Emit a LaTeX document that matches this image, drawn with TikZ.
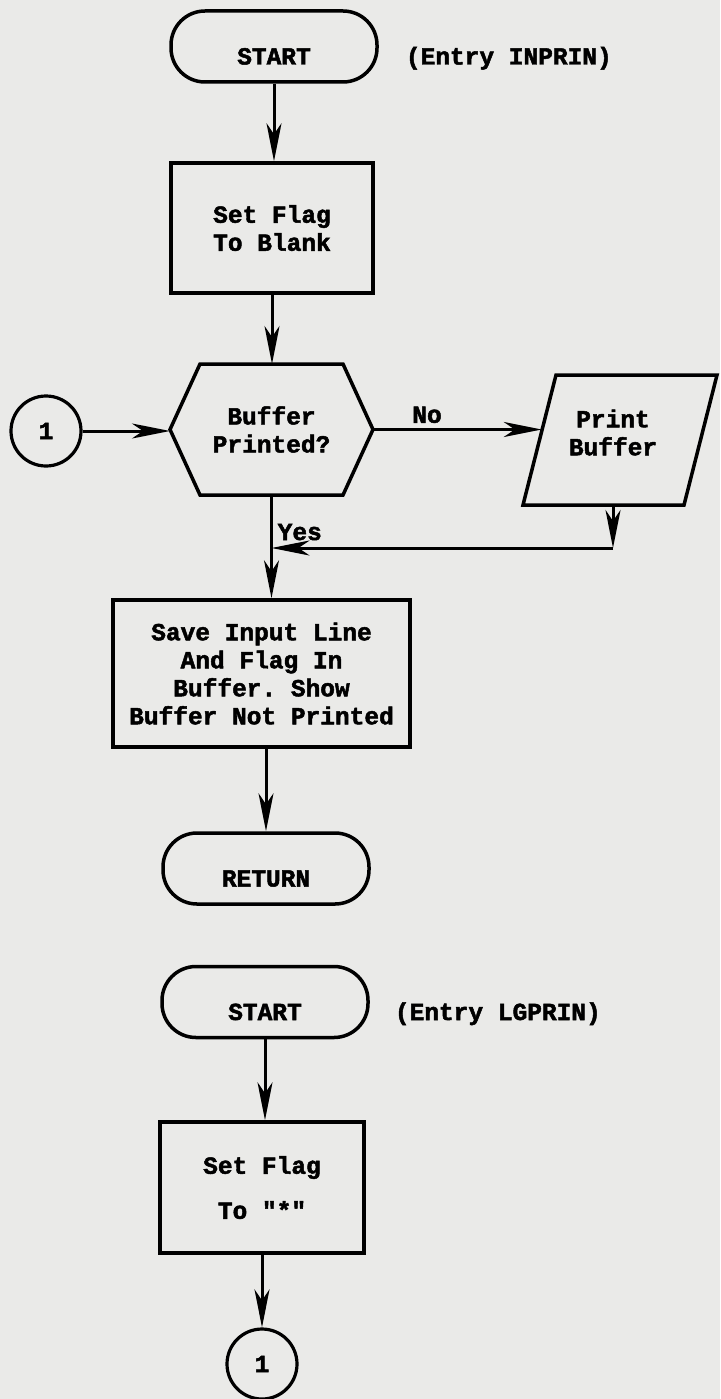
\documentclass[tikz,border=0pt]{standalone}
\usepackage{fontspec}
\setmonofont{Liberation Mono}[BoldFeatures={FakeBold=2}]
\usepackage{tikz}
\usetikzlibrary{arrows.meta,calc,positioning}
\definecolor{paper}{RGB}{234,234,232}
\newcommand{\flowtext}{\ttfamily\bfseries\fontsize{24.5}{28}\selectfont}
\tikzstyle{terminal}=[
  draw=black,
  line width=3.5pt,
  rectangle,
  rounded corners=34pt,
  minimum width=206pt,
  minimum height=71pt,
  text height=36pt,
  text depth=0pt,
  inner sep=0pt,
]
\tikzstyle{process}=[
  draw=black,
  line width=3.5pt,
  rectangle,
  align=center,
  inner sep=0pt,
]
\tikzstyle{frame}=[
  rectangle,
  align=center,
  inner sep=0pt,
  outer sep=0pt,
]
\tikzstyle{onpage}=[
  draw=black,
  circle,
  line width=3.2pt,
  minimum size=70pt,
  inner sep=0pt,
]
\tikzstyle{outline}=[
  draw=black,
  line width=3.5pt,
]
\tikzstyle{link}=[
  draw=black,
  line width=3pt,
]
\tikzstyle{note}=[
  inner sep=0pt,
]
\tikzset{
  >={Stealth[length=38pt,width=15pt,inset=11pt]},
  every node/.append style={font=\flowtext},
}
\begin{document}
\begin{tikzpicture}[x=1pt,y=-1pt]
  \fill[paper] (0,0) rectangle (720,1399);
  \useasboundingbox (0,0) rectangle (720,1399);
  % entry INPRIN
  \node (start1) [terminal] at (274,46.5) {START};
  \node (entry1) [note, anchor=base west] at ([xshift=27pt]start1.base east) {(Entry INPRIN)};
  \node (flag1) [process, minimum width=202pt, minimum height=130pt] at (272,228) {Set Flag\\To Blank};
  \node (dec) [frame, minimum width=203pt, minimum height=131pt] at (271.5,429.5) {Buffer\\Printed?};
  \draw [outline] ([xshift=30pt]dec.north west) -- ([xshift=-30pt]dec.north east) -- (dec.east)
    -- ([xshift=-30pt]dec.south east) -- ([xshift=30pt]dec.south west) -- (dec.west) -- cycle;
  \node (con1) [onpage] at (46,431) {1};
  \node (prt) [frame] at (613,432.5) {Print\\Buffer};
  \draw [outline] ($(prt)+(-57,-57.5)$) -- ($(prt)+(104,-57.5)$)
    -- ($(prt)+(71,72.5)$) -- ($(prt)+(-90,72.5)$) -- cycle;
  \coordinate (prtin) at ($($(prt)+(-90,72.5)$)!.57!($(prt)+(-57,-57.5)$)$);
  \coordinate (prtout) at ($(prt)+(0,72.5)$);
  \coordinate (turn) at ($(prt)+(0,115.5)$);
  \coordinate (join) at (turn -| dec.south);
  \node (save) [process, minimum width=297pt, minimum height=147pt] at (261.5,673.5)
    {Save Input Line\\And Flag In\\Buffer. Show\\Buffer Not Printed};
  \node (ret) [terminal] at (266,868.5) {RETURN};
  \draw [->, link] (start1.south) -- (start1.south |- flag1.north);
  \draw [->, link] (flag1.south) -- (flag1.south |- dec.north);
  \draw [->, link] (con1.east) -- (con1.east -| dec.west);
  \draw [->, link] (dec.east) -- node [note, pos=.32, above=5pt] {No} (dec.east -| prtin);
  \draw [->, link] (prtout) -- (turn);
  \draw [->, link] (turn) -- (join);
  \node (yes) [note, anchor=base west] at ($(join)+(6,-8)$) {Yes};
  \draw [->, link] (dec.south) -- (dec.south |- save.north);
  \draw [->, link] (ret.north |- save.south) -- (ret.north);
  % entry LGPRIN
  \node (start2) [terminal] at (265,1002) {START};
  \node (entry2) [note, anchor=base west] at ([xshift=25pt]start2.base east) {(Entry LGPRIN)};
  \node (flag2) [process, minimum width=204pt, minimum height=131pt] at (262,1187.5) {Set Flag\\[17pt]To "*"};
  \node (con2) [onpage] at (262,1364) {1};
  \draw [->, link] (start2.south) -- (start2.south |- flag2.north);
  \draw [->, link] (flag2.south) -- (flag2.south |- con2.north);
\end{tikzpicture}
\end{document}
